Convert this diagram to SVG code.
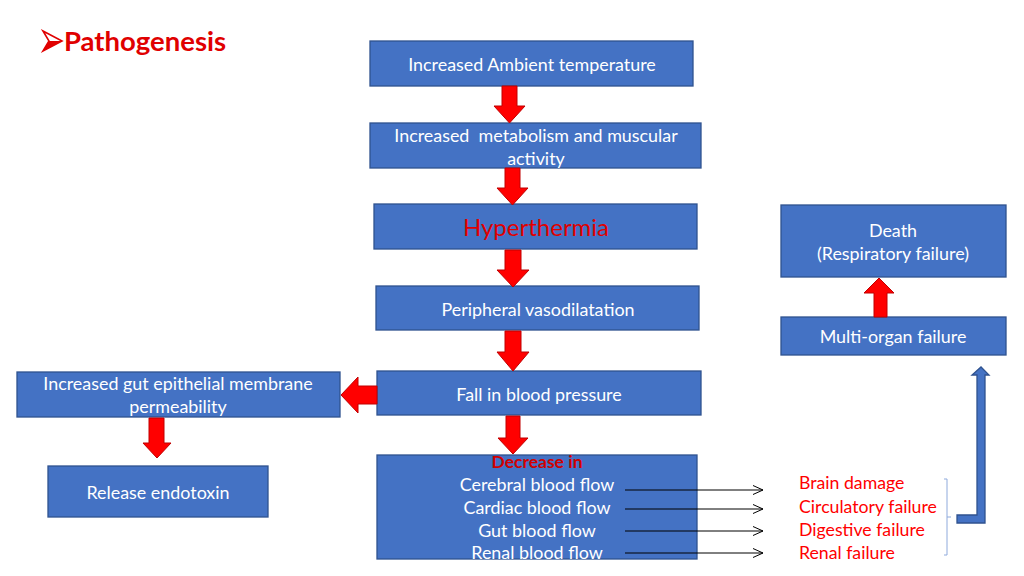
<svg xmlns="http://www.w3.org/2000/svg" width="1024" height="576" viewBox="0 0 1024 576">
<defs>
<style>
.box{fill:#4472C4;stroke:#2F528F;stroke-width:1.3}
.t{font-family:Lato,"Open Sans","Liberation Sans",sans-serif;font-size:17.9px;fill:#fff;text-anchor:middle}
.r{font-family:Lato,"Open Sans","Liberation Sans",sans-serif;font-size:17.7px;fill:#FF0000}
.ra{fill:#FF0000;stroke:#C00000;stroke-width:1}
.thin{stroke:#000;stroke-width:1;fill:none;marker-end:url(#open)}
</style>
<marker id="open" viewBox="0 0 10 10" refX="10" refY="5" markerWidth="10" markerHeight="10" markerUnits="userSpaceOnUse" orient="auto">
<path d="M0,0.5 L10,5 L0,9.5" fill="none" stroke="#000" stroke-width="1"/>
</marker>
</defs>
<rect width="1024" height="576" fill="#fff"/>
<g id="title">
<path d="M43,31 L62,41 L43,51 L49,41 Z" fill="#fff" stroke="#E00000" stroke-width="1.6"/>
<path d="M49,41 L62,41 L43,51 Z" fill="#E00000"/>
<text x="64" y="51" font-family="Lato,'Open Sans','Liberation Sans',sans-serif" font-size="27.5" font-weight="bold" fill="#E00000">Pathogenesis</text>
</g>
<g id="n1"><rect class="box" x="370" y="41" width="323" height="45"/><text class="t" x="532" y="71">Increased Ambient temperature</text></g>
<g id="n2"><rect class="box" x="370" y="123" width="331" height="45"/><text class="t" x="536" y="142" xml:space="preserve" style="white-space:pre">Increased  metabolism and muscular</text><text class="t" x="536" y="165">activity</text></g>
<g id="n3"><rect class="box" x="374" y="204" width="323" height="45"/><text class="t" x="536" y="236" style="fill:#E00000;font-size:24px">Hyperthermia</text></g>
<g id="n4"><rect class="box" x="376" y="286" width="323" height="44"/><text class="t" x="538" y="316">Peripheral vasodilatation</text></g>
<g id="n5"><rect class="box" x="377" y="371" width="324" height="44"/><text class="t" x="539" y="401">Fall in blood pressure</text></g>
<g id="n6"><rect class="box" x="377" y="455" width="320" height="104"/>
<text class="t" x="537" y="468" style="fill:#D00000;font-weight:bold;font-size:17.5px">Decrease in</text>
<text class="t" x="537" y="491">Cerebral blood flow</text>
<text class="t" x="537" y="514">Cardiac blood flow</text>
<text class="t" x="537" y="537">Gut blood flow</text>
<text class="t" x="537" y="559">Renal blood flow</text></g>
<g id="n7"><rect class="box" x="17" y="372" width="323" height="45"/><text class="t" x="178" y="390">Increased gut epithelial membrane</text><text class="t" x="178" y="413">permeability</text></g>
<g id="n8"><rect class="box" x="48" y="466" width="220" height="51"/><text class="t" x="158" y="499">Release endotoxin</text></g>
<g id="n9"><rect class="box" x="781" y="205" width="225" height="72"/><text class="t" x="893" y="237">Death</text><text class="t" x="893" y="260">(Respiratory failure)</text></g>
<g id="n10"><rect class="box" x="781" y="317" width="225" height="38"/><text class="t" x="893" y="343">Multi-organ failure</text></g>
<g id="outcomes">
<text class="r" x="799" y="489">Brain damage</text>
<text class="r" x="799" y="513">Circulatory failure</text>
<text class="r" x="799" y="536">Digestive failure</text>
<text class="r" x="799" y="559">Renal failure</text>
</g>
<g id="connectors">
<path class="ra" d="M502,86 H517 V106 H525 L509.5,123 L494,106 H502 Z"/>
<path class="ra" d="M505,168 H520 V188 H528 L512.5,205 L497,188 H505 Z"/>
<path class="ra" d="M505,250 H521 V270 H529 L513,287 L497,270 H505 Z"/>
<path class="ra" d="M505,331 H521 V352 H529 L513,371 L497,352 H505 Z"/>
<path class="ra" d="M506,416 H520 V438 H528 L513,454 L498,438 H506 Z"/>
<path class="ra" d="M377,386 V404 H358 V413 L341,395 L358,377 V386 Z"/>
<path class="ra" d="M149,418 H164 V443 H171 L157,458 L143,443 H149 Z"/>
<path class="ra" d="M874,317 V293 H864 L879,278 L894,293 H887 V317 Z"/>
<line class="thin" x1="625" y1="490" x2="763" y2="490"/>
<line class="thin" x1="625" y1="509" x2="763" y2="509"/>
<line class="thin" x1="625" y1="531" x2="763" y2="531"/>
<line class="thin" x1="625" y1="553" x2="763" y2="553"/>
<path d="M944,479 H947 V555 H944 M947,517 H951" fill="none" stroke="#8FAADC" stroke-width="1"/>
<path d="M957,515 H977 V375 H972 L981,367 L989,375 H985 V523 H957 Z" fill="#4472C4" stroke="#2F528F" stroke-width="1.3"/>
</g>
</svg>
